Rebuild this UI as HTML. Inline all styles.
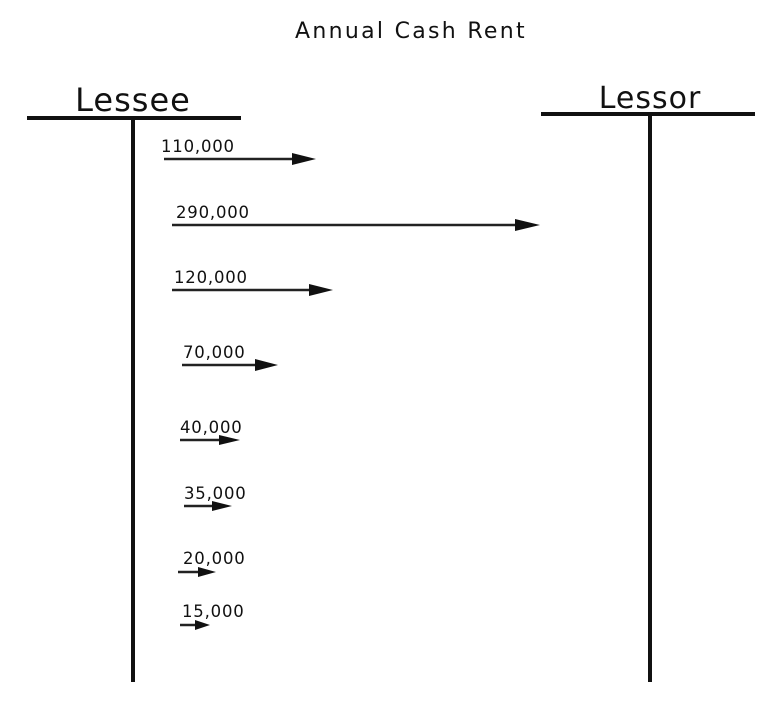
<!DOCTYPE html>
<html><head><meta charset="utf-8"><style>
html,body{margin:0;padding:0;background:#fff;}
svg{display:block;}
text{font-family:"DejaVu Sans","Liberation Sans",sans-serif;fill:#111;}
</style></head><body>
<svg width="780" height="714" viewBox="0 0 780 714" xmlns="http://www.w3.org/2000/svg">
<text x="411" y="38" font-size="22" letter-spacing="2.3" text-anchor="middle">Annual Cash Rent</text>
<text x="133" y="111" font-size="32" letter-spacing="1" text-anchor="middle">Lessee</text>
<text x="650" y="108" font-size="30" letter-spacing="1" text-anchor="middle">Lessor</text>
<rect x="27" y="116" width="214" height="4" fill="#111"/>
<rect x="541" y="112" width="214" height="4" fill="#111"/>
<rect x="131" y="120" width="4" height="562" fill="#111"/>
<rect x="648" y="116" width="4" height="566" fill="#111"/>
<g stroke="#222" stroke-width="2.5">
<line x1="164" y1="159" x2="295" y2="159"/>
<line x1="172" y1="225" x2="518" y2="225"/>
<line x1="172" y1="290" x2="312" y2="290"/>
<line x1="182" y1="365" x2="258" y2="365"/>
<line x1="180" y1="440" x2="222" y2="440"/>
<line x1="184" y1="506" x2="214" y2="506"/>
<line x1="178" y1="572" x2="200" y2="572"/>
<line x1="180" y1="625" x2="196" y2="625"/>
</g>
<g fill="#111">
<polygon points="292,153 316,159 292,165"/>
<polygon points="515,219 540,225 515,231"/>
<polygon points="309,284 333,290 309,296"/>
<polygon points="255,359 278,365 255,371"/>
<polygon points="219,435 240,440 219,445"/>
<polygon points="212,501 232,506 212,511"/>
<polygon points="198,567 216,572 198,577"/>
<polygon points="195,620 210,625 195,630"/>
</g>
<g font-size="16.5" letter-spacing="0.8">
<text x="161" y="152">110,000</text>
<text x="176" y="218">290,000</text>
<text x="174" y="283">120,000</text>
<text x="183" y="358">70,000</text>
<text x="180" y="433">40,000</text>
<text x="184" y="499">35,000</text>
<text x="183" y="564">20,000</text>
<text x="182" y="617">15,000</text>
</g>
</svg>
</body></html>
